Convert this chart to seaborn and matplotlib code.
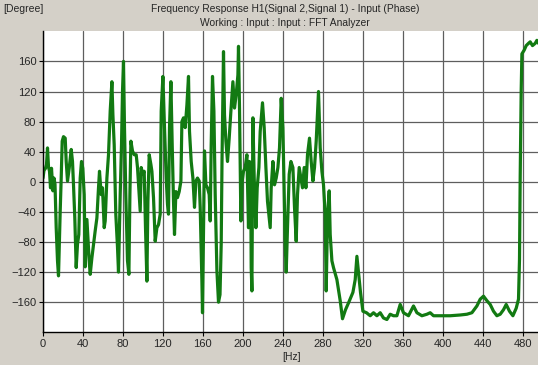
import matplotlib
matplotlib.use("Agg")
import matplotlib.pyplot as plt
import seaborn as sns

# phase of H1
freq_hz = [
    0.5, 1.5, 3, 4, 5, 6, 7, 8, 9, 10.4, 11.5, 12.5, 13.7, 15, 16, 17.7, 18.7, 19.7,
    21, 22.7, 23.7, 25, 26.7, 28.7, 30, 31, 32.3, 33.7, 35, 36.3, 37.7, 39, 40.3,
    41.7, 42.7, 44.4, 45.7, 46.7, 47.7, 49.4, 51, 52.7, 54.4, 56, 57, 58.7, 60,
    61.7, 62.7, 64.4, 66, 67.7, 69.4, 70.4, 71.7, 73.3, 75, 76, 77.7, 79, 80, 81,
    82, 83.3, 85, 86.4, 87.4, 88.4, 90, 91.7, 93.7, 95, 96.7, 97.7, 98.7, 100.4,
    101.7, 103, 104.4, 105.4, 106.7, 108.4, 109.4, 111, 112.7, 114.4, 116, 117.7,
    118.7, 120.4, 122, 123.7, 125, 126, 127, 128.4, 129.7, 131, 132, 133.4, 135,
    136.7, 138.4, 139.4, 141, 142.7, 144.4, 146, 147, 148.7, 150.4, 152, 153.4,
    155, 156.7, 157.7, 159.4, 160, 161, 162, 163.4, 165, 166.7, 167.7, 168.7, 170,
    171.4, 172.7, 174.4, 176, 177.5, 178.7, 179.5, 180.4, 181, 182, 183.4, 185,
    186.7, 188.4, 190.4, 192, 193.7, 195.4, 196, 197, 198.4, 199.7, 201, 202.7,
    204.4, 206, 207, 208.2, 208.7, 209.4, 210.4, 211.7, 213.4, 214.7, 216.4, 217.7,
    220, 221.7, 223.4, 225, 227.7, 228.7, 230.4, 232, 233.7, 235.4, 237, 238.7,
    240.4, 241.7, 242.7, 243.7, 245, 246.7, 248.4, 250.4, 252, 253.7, 255, 256.7,
    258.4, 260, 261.7, 263.4, 265, 267, 268.7, 270.4, 272, 273.7, 276, 277.7,
    279.4, 281, 282.7, 283.7, 285, 286.7, 287.7, 289.4, 291, 294.4, 297.7, 300,
    303, 306, 310.4, 312.7, 314.4, 316, 318, 320.4, 324, 327.7, 331, 334.4, 337.7,
    341, 344.4, 347.7, 351, 354.4, 357.7, 361, 366, 371, 374.4, 379.4, 384.4,
    387.7, 391, 396, 401, 407.7, 417.7, 424.4, 429.4, 434.4, 437.7, 441, 444.4,
    447.7, 451, 454.4, 457.7, 461, 463.7, 467, 470.4, 473.7, 476, 477, 477.7,
    478.7, 479.4, 481.7, 483.7, 486, 487.7, 490, 492.7, 494.4, 496,
]
phase_deg = [
    5, 15, 18, 23, 45, 20, 14, -8, 18, -12, 5, -3, -61, -105, -125, -39, 5, 54,
    60, 58, 27, 1, 18, 43, 27, -4, -48, -114, -83, -70, 5, 27, 18,
    -17, -113, -50, -80, -105, -123, -101, -83, -65, -48, -8, 14, -17, -8,
    -61, -52, 5, 36, 94, 133, 89, 49, -43, -87, -120, -17, 49, 120, 160,
    71, -17, -105, -123, -17, 54, 41, 36, 36, 19, -17, -39, 19, 10,
    14, -61, -132, -26, 36, 23, 14, -21, -79, -61, -57, -43,
    94, 140, 72, 5, -30, -43, 72, 133, 49, -26, -70, -13, -21,
    -13, 1, 80, 85, 72, 102, 140, 67, 27, 5, -34, 1,
    5, 1, -34, -132, -174, -61, 41, -4, -8, -17, -52, 49, 140,
    94, -17, -118, -160, -150, -83, 27, 116, 173, 89, 54, 27,
    58, 94, 133, 98, 116, 142, 180, 98, -52, 1, 14, 19,
    36, -61, 27, 5, -114, -145, 85, 5, -61, -8, 19, 67,
    105, 72, 19, -26, -61, -8, 27, -4, 5, 19, 45, 111,
    72, -17, -83, -120, -61, 10, 27, 19, -34, -79, -17, 19,
    5, -8, 19, -8, 36, 58, 27, 1, 19, 54, 120, 45,
    14, -4, -43, -145, -48, -12, -70, -105, -114, -130, -158, -182,
    -170, -161, -147, -130, -99, -121, -147, -172, -174, -178, -174, -178, -174,
    -181, -183, -176, -178, -178, -163, -174, -178, -165, -174, -178, -176,
    -174, -178, -178, -178, -178, -177, -176, -174, -165, -156, -152, -158,
    -163, -172, -178, -176, -170, -163, -172, -178, -168, -156, -103, 7,
    122, 170, 175, 181, 184, 186, 181, 184, 188, 184,
]
x_ticks = list(range(0, 481, 40))
y_ticks = list(range(-160, 161, 40))

sns.set_style("white")
plt.rcParams['font.family'] = ['Liberation Sans', 'DejaVu Sans']
bg = '#d4d0c8'

fig = plt.figure(figsize=(5.38, 3.65), dpi=100, facecolor=bg)
ax = fig.add_axes([42.5 / 538, 32.7 / 365, (538 - 42.5) / 538, 301 / 365])
ax.set_facecolor('white')

sns.lineplot(x=freq_hz, y=phase_deg, ax=ax, color='#127a12', linewidth=2.3, sort=False)

ax.set_xlim(0, 495.5)
ax.set_ylim(-200, 200)
ax.set_xticks(x_ticks)
ax.set_yticks(y_ticks)
ax.grid(True, color='#5e5e5e', linewidth=0.9)
ax.set_axisbelow(True)
for side in ['top', 'right']:
    ax.spines[side].set_visible(False)
for side in ['left', 'bottom']:
    ax.spines[side].set_color('black')
    ax.spines[side].set_linewidth(1.0)
ax.tick_params(direction='out', length=3, width=0.8, color='black',
               labelsize=8, pad=1.5, left=True, bottom=True)

fig.text(3 / 538, 1 - 9 / 365, '[Degree]', fontsize=7.5, va='center', ha='left')
fig.text(285 / 538, 1 - 9 / 365,
         'Frequency Response H1(Signal 2,Signal 1) - Input (Phase)',
         fontsize=7.4, va='center', ha='center')
fig.text(285 / 538, 1 - 23 / 365, 'Working : Input : Input : FFT Analyzer',
         fontsize=7.4, va='center', ha='center')
fig.text(292 / 538, 1 - 357 / 365, '[Hz]', fontsize=7.5, va='center', ha='center')

fig.savefig('out.png', dpi=100, facecolor=bg)
